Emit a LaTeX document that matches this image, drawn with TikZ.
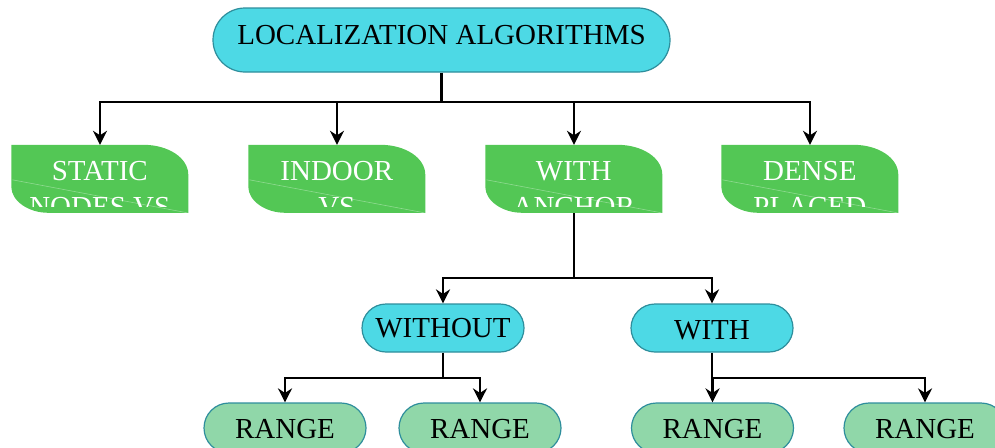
\documentclass[tikz,border=0pt]{standalone}
\usepackage{fontspec}
\setmainfont{Liberation Serif}
\usetikzlibrary{arrows.meta}
\definecolor{rootcyan}{HTML}{4DD9E5}
\definecolor{ovalline}{HTML}{2E8E9C}
\definecolor{leafgreen}{HTML}{53C755}
\definecolor{rangegreen}{HTML}{90D7A9}
\tikzset{
  oval/.style={rectangle, rounded corners=24pt, draw=ovalline, line width=1.2pt,
    fill=rootcyan, minimum width=162pt, minimum height=48pt, inner sep=0pt,
    font=\fontsize{29}{34}\selectfont},
  rangeoval/.style={oval, fill=rangegreen, minimum height=50pt, rounded corners=25pt,
    text height=21pt, text depth=0pt},
  leaf/.style={rectangle, minimum width=177pt, minimum height=68pt, inner sep=0pt},
  leaftxt/.style={text=white, align=center, font=\fontsize{29}{35.5}\selectfont, inner sep=0pt},
  line/.style={line width=2.2pt},
  arr/.style={line width=2.2pt, -{Stealth[length=14pt, width=14pt, inset=4.5pt]}}
}
\begin{document}
\begin{tikzpicture}[x=1pt, y=-1pt]
  \useasboundingbox (0,0) rectangle (995,447);
  \node[oval, minimum width=457pt, minimum height=64pt, rounded corners=32pt,
    text height=20pt, text depth=12pt] (root) at (441.5,40) {LOCALIZATION ALGORITHMS};

  % green boxes, text cut short of the bottom edge
  \foreach \i/\x/\txt in {1/100/{STATIC\\NODES VS}, 2/337/{INDOOR\\VS},
                          3/574/{WITH\\ANCHOR}, 4/810/{DENSE\\PLACED}}{
    \node[leaf] (s\i) at (\x,179) {};
    \begin{scope}[shift={(s\i.north west)}]
      \fill[leafgreen] (0,0) -- (132,0) .. controls (157,0) and (177,13) .. (177,30)
        -- (177,68) -- (37,68) .. controls (17,68) and (0,56) .. (0,42) -- cycle;
      \draw[white, opacity=.35, line width=.6pt] (1,35) -- (176,68);
      \clip (0,0) rectangle (177,62);
      \node[leaftxt, anchor=base] (t\i) at (88.5,71.5) {\txt};
    \end{scope}
  }

  \coordinate (bus1) at (441.5,102);
  \draw[line] (root.south) -- (bus1);
  \foreach \i in {1,...,4} \draw[arr] (bus1) -| (s\i.north);

  \node[oval] (without) at (443,328) {WITHOUT};
  \node[oval, text height=23pt, text depth=0pt] (with) at (712,328) {WITH};
  \coordinate (bus2) at (574,278);
  \draw[line] (s3.south) -- (bus2);
  \draw[arr] (bus2) -| (without.north);
  \draw[arr] (bus2) -| (with.north);

  \node[rangeoval] (r1) at (285,428) {RANGE};
  \node[rangeoval] (r2) at (480,428) {RANGE};
  \node[rangeoval] (r3) at (712.5,428) {RANGE};
  \node[rangeoval] (r4) at (925,428) {RANGE};

  \coordinate (bus3) at (443,378);
  \draw[line] (without.south) -- (bus3);
  \draw[arr] (bus3) -| (r1.north);
  \draw[arr] (bus3) -| (r2.north);
  \coordinate (bus4) at (712,378);
  \draw[line] (with.south) -- (bus4);
  \draw[arr] (bus4) -| (r3.north);
  \draw[arr] (bus4) -| (r4.north);
\end{tikzpicture}
\end{document}
